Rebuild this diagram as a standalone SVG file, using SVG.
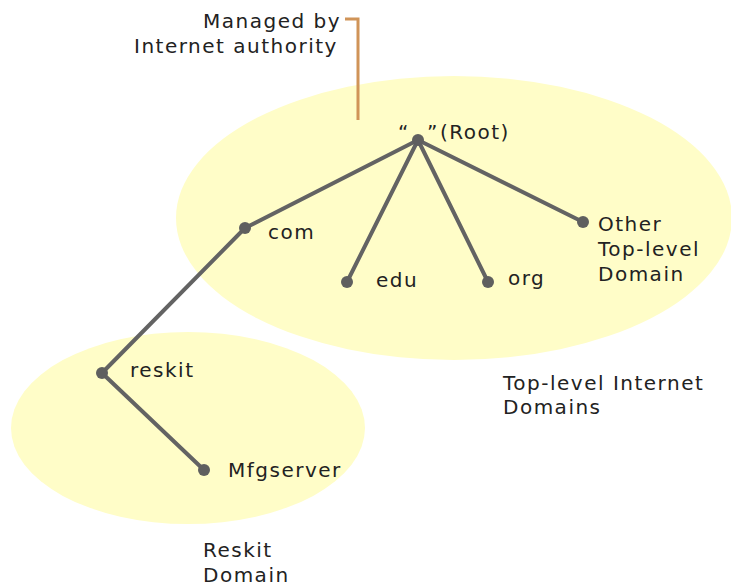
<svg xmlns="http://www.w3.org/2000/svg" width="731" height="586" viewBox="0 0 731 586">
<style>
.area{fill:#FFFDC8;stroke:none}
.edge{stroke:#636363;stroke-width:4;stroke-linecap:round;fill:none}
.dot{fill:#5f5f5f}
.lbl{font-family:"DejaVu Sans",Verdana,sans-serif;font-size:20px;letter-spacing:1.5px;fill:#222}
.call{stroke:#D09458;stroke-width:3;fill:none}
</style>
<rect width="731" height="586" fill="#fff"/>
<g id="top-level-area">
<ellipse class="area" cx="454" cy="218" rx="278" ry="142"/>
</g>
<g id="reskit-area">
<ellipse class="area" cx="188" cy="428" rx="177" ry="96"/>
</g>
<g id="connectors">
<line class="edge" x1="418" y1="140" x2="245" y2="228"/>
<line class="edge" x1="418" y1="140" x2="347" y2="282"/>
<line class="edge" x1="418" y1="140" x2="488" y2="282"/>
<line class="edge" x1="418" y1="140" x2="583" y2="222"/>
<line class="edge" x1="245" y1="228" x2="102" y2="373"/>
<line class="edge" x1="102" y1="373" x2="204" y2="470"/>
<polyline class="call" points="345,19 358,19 358,120"/>
</g>
<g id="callout">
<text class="lbl" x="203" y="28">Managed by</text>
<text class="lbl" x="134" y="53">Internet authority</text>
</g>
<g id="root">
<circle class="dot" cx="418" cy="140" r="6"/>
<text class="lbl" x="398" y="139">“</text>
<text class="lbl" x="427" y="139">”</text>
<text class="lbl" x="440" y="139">(Root)</text>
</g>
<g id="com">
<circle class="dot" cx="245" cy="228" r="6"/>
<text class="lbl" x="268" y="239">com</text>
</g>
<g id="edu">
<circle class="dot" cx="347" cy="282" r="6"/>
<text class="lbl" x="376" y="287">edu</text>
</g>
<g id="org">
<circle class="dot" cx="488" cy="282" r="6"/>
<text class="lbl" x="508" y="285">org</text>
</g>
<g id="other">
<circle class="dot" cx="583" cy="222" r="6"/>
<text class="lbl" x="598" y="231">Other</text>
<text class="lbl" x="598" y="256">Top-level</text>
<text class="lbl" x="598" y="281">Domain</text>
</g>
<g id="reskit">
<circle class="dot" cx="102" cy="373" r="6"/>
<text class="lbl" x="130" y="377">reskit</text>
</g>
<g id="mfgserver">
<circle class="dot" cx="204" cy="470" r="6"/>
<text class="lbl" x="228" y="477">Mfgserver</text>
</g>
<g id="top-level-label">
<text class="lbl" x="503" y="390">Top-level Internet</text>
<text class="lbl" x="503" y="414">Domains</text>
</g>
<g id="reskit-label">
<text class="lbl" x="203" y="557">Reskit</text>
<text class="lbl" x="203" y="582">Domain</text>
</g>
</svg>
